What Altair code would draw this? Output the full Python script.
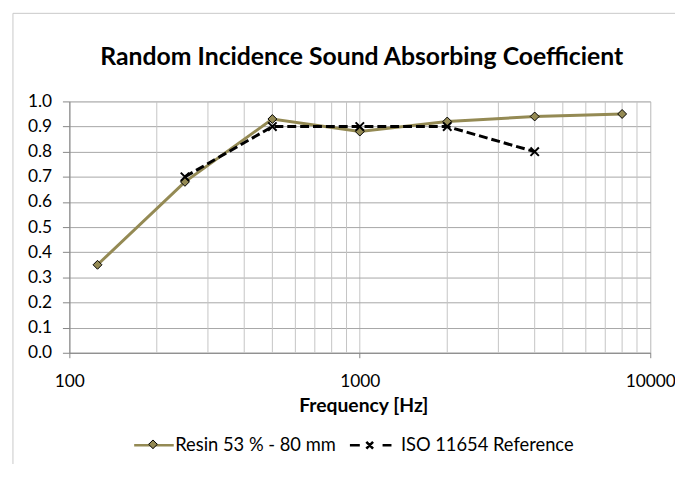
import altair as alt
import pandas as pd

# ---- data ----
freq_resin = [125, 250, 500, 1000, 2000, 4000, 8000]
alpha_resin = [0.35, 0.68, 0.93, 0.88, 0.92, 0.94, 0.95]
freq_iso = [250, 500, 1000, 2000, 4000]
alpha_iso = [0.70, 0.90, 0.90, 0.90, 0.80]
series_names = ["Resin 53 % - 80 mm", "ISO 11654 Reference"]
major_ticks = [100, 1000, 10000]
minor_ticks = [200, 300, 400, 500, 600, 700, 800, 900,
               2000, 3000, 4000, 5000, 6000, 7000, 8000, 9000]
y_ticks = [0.0, 0.1, 0.2, 0.3, 0.4, 0.5, 0.6, 0.7, 0.8, 0.9, 1.0]
title_text = "Random Incidence Sound Absorbing Coefficient"
x_title = "Frequency [Hz]"

OLIVE = "#948A54"
FONT = "Lato"

resin = pd.DataFrame({"f": freq_resin, "a": alpha_resin})
iso = pd.DataFrame({"f": freq_iso, "a": alpha_iso})
minor = pd.DataFrame({"f": minor_ticks})
leg_a = pd.DataFrame({"s": series_names})
leg_b = pd.DataFrame({"m": series_names})
one = pd.DataFrame({"k": [0]})

xscale = alt.Scale(type="log", domain=[100, 10000], nice=False)
yscale = alt.Scale(domain=[0, 1], nice=False)

x_axis = alt.Axis(values=major_ticks, format="d", title=x_title, grid=True,
                  gridColor="#c4c4c4", domainColor="#868686", tickColor="#868686",
                  tickSize=5, labelPadding=29, labelBaseline="alphabetic",
                  labelFlush=False, labelOverlap=False, labelBound=False,
                  labelFont=FONT, labelFontSize=17.5, labelColor="black",
                  titleFont=FONT, titleFontSize=19.5, titleFontWeight="bold",
                  titleColor="black", titleY=59, titleX=297,
                  titleBaseline="alphabetic")
y_axis = alt.Axis(values=y_ticks, format=".1f", title=None, grid=True,
                  gridColor="#a6a6a6", domainColor="#868686", tickColor="#868686",
                  tickSize=7, labelPadding=11, labelFont=FONT, labelFontSize=17.5,
                  labelColor="black")

X = alt.X("f:Q", scale=xscale, axis=x_axis)
Y = alt.Y("a:Q", scale=yscale, axis=y_axis)

minor_grid = alt.Chart(minor).mark_rule(color="#c4c4c4", strokeWidth=1).encode(x=X)

resin_line = alt.Chart(resin).mark_line(color=OLIVE, strokeWidth=3).encode(x=X, y=Y)
resin_pts = alt.Chart(resin).mark_point(
    shape="diamond", filled=True, fill=OLIVE, stroke="black", strokeWidth=1,
    size=81, opacity=1).encode(x=X, y=Y)
iso_line = alt.Chart(iso).mark_line(color="black", strokeWidth=3,
                                    strokeDash=[9, 4]).encode(x=X, y=Y)
iso_pts = alt.Chart(iso).mark_point(
    shape="M-1,-1L1,1M-1,1L1,-1", filled=False, stroke="black", strokeWidth=2,
    size=72, opacity=1).encode(x=X, y=Y)

legend_common = dict(orient="none", legendX=64, legendY=326, direction="horizontal",
                     title=None, padding=0, symbolSize=1600, labelOffset=0,
                     columnPadding=8, labelFont=FONT, labelFontSize=18.5,
                     labelLimit=400)

leg_a_obj = alt.Legend(symbolStrokeWidth=2.6, labelColor="black", **legend_common)
leg_b_obj = alt.Legend(symbolStrokeWidth=1, values=[series_names[0]],
                       labelExpr="''", **legend_common)

legend_lines = alt.Chart(leg_a).transform_filter("false").mark_point(
    filled=False, strokeWidth=2.6, opacity=1).encode(
    shape=alt.Shape("s:N", scale=alt.Scale(
        domain=series_names,
        range=["M-1,0L1,0",
               "M-1.5,0L-1,0M0.15,0L0.6,0M-0.67,-0.17L-0.33,0.17M-0.67,0.17L-0.33,-0.17"]),
        legend=leg_a_obj),
    stroke=alt.Stroke("s:N", scale=alt.Scale(domain=series_names,
                      range=[OLIVE, "black"]), legend=leg_a_obj),
)
legend_marks = alt.Chart(leg_b).transform_filter("false").mark_point(
    filled=True, strokeWidth=1, opacity=1).encode(
    shape=alt.Shape("m:N", scale=alt.Scale(domain=series_names,
                    range=["M0,-0.22L0.22,0L0,0.22L-0.22,0Z", "M0,-0.22L0.22,0L0,0.22L-0.22,0Z"]),
                    legend=leg_b_obj),
    fill=alt.Fill("m:N", scale=alt.Scale(domain=series_names,
                  range=[OLIVE, OLIVE]), legend=leg_b_obj),
    stroke=alt.Stroke("m:N", scale=alt.Scale(domain=series_names,
                      range=["black", "black"]), legend=leg_b_obj),
)

# chart-area frame (light grey border at the left and top, as in the reference)
border_left = alt.Chart(one).mark_rule(color="#c8c8c8", strokeWidth=1).encode(
    x=alt.value(-57), y=alt.value(-89), y2=alt.value(400))
border_top = alt.Chart(one).mark_rule(color="#c8c8c8", strokeWidth=1).encode(
    x=alt.value(-57), x2=alt.value(620), y=alt.value(-89))

chart = alt.layer(
    border_left, border_top,
    minor_grid, resin_line, resin_pts, iso_line, iso_pts,
    legend_lines, legend_marks,
).resolve_scale(shape="independent", stroke="independent", fill="independent").properties(
    width=587, height=254,
    autosize=alt.AutoSizeParams(type="none"),
    padding={"left": 62, "top": 92, "right": 25, "bottom": 110},
    title=alt.TitleParams(title_text, font=FONT, fontSize=25, fontWeight="bold",
                          color="black", anchor="middle", frame="group",
                          baseline="alphabetic", offset=37, dx=2, dy=115),
).configure_view(strokeWidth=0).configure(font=FONT)

chart.save("out.html", embed_options={"renderer": "svg", "actions": False})
